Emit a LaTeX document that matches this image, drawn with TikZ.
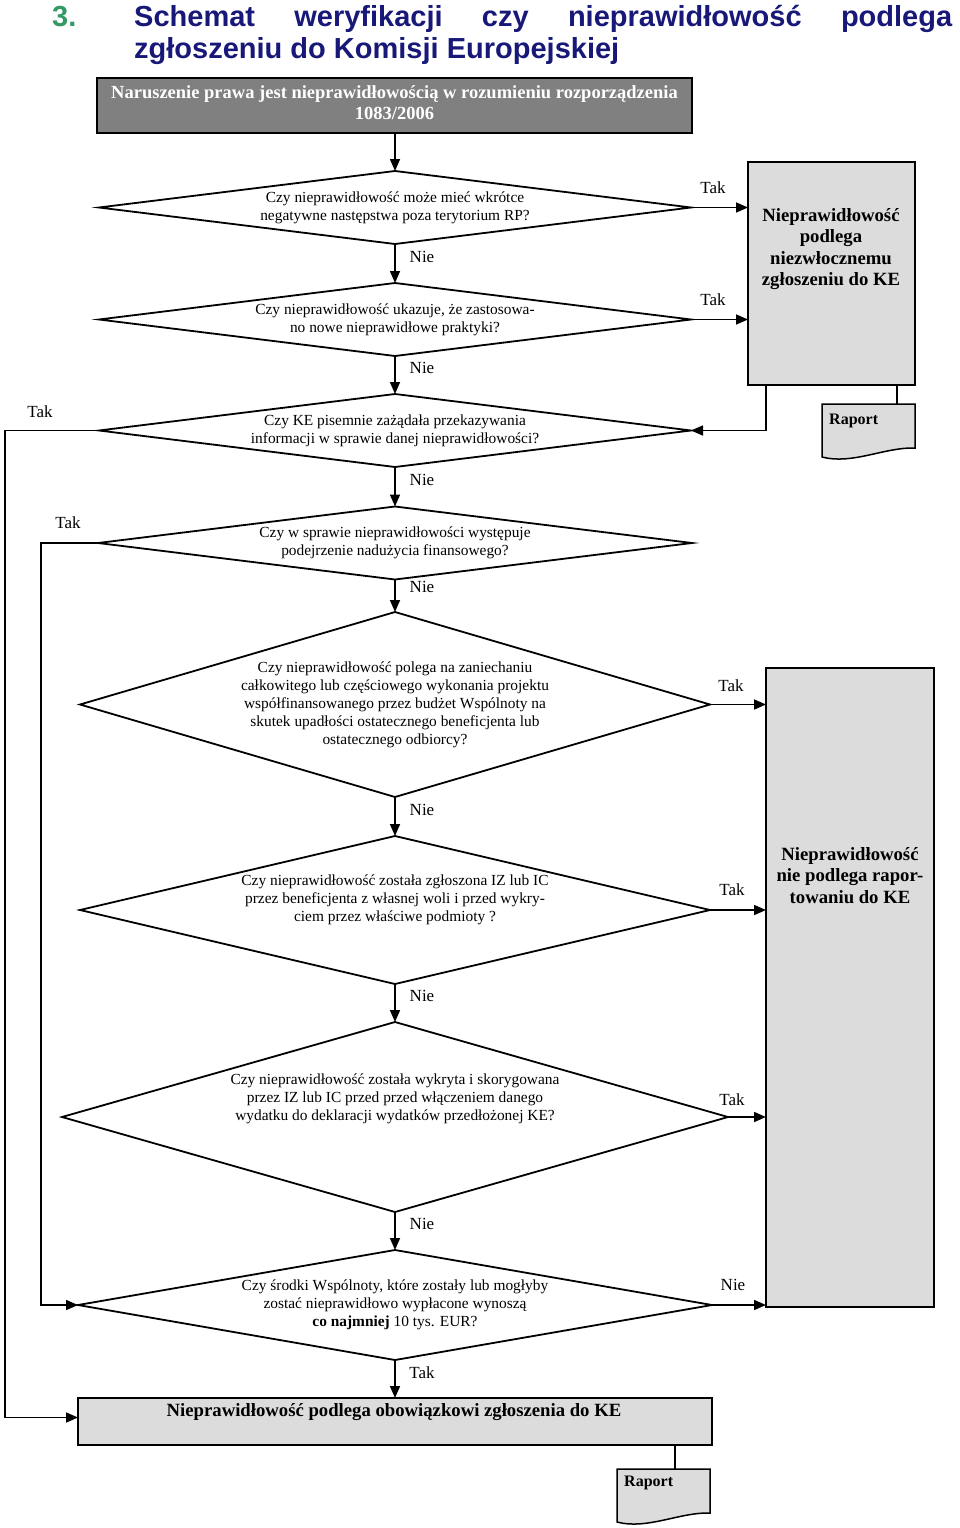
\documentclass[tikz,border=0pt]{standalone}
\usepackage{fontspec}
\setmainfont{Liberation Serif}
\newfontfamily\titlefont{Liberation Sans}
\usetikzlibrary{shapes.geometric,arrows.meta,calc}
\definecolor{titleblue}{RGB}{24,24,120}
\definecolor{titlegreen}{RGB}{51,153,102}
\definecolor{boxgray}{RGB}{220,220,220}
\definecolor{darkbox}{RGB}{128,128,128}
\begin{document}
\begin{tikzpicture}[x=1pt,y=-1pt,
 dec/.style={diamond, draw, line width=1.8pt, inner sep=0pt, outer sep=0pt},
 qtext/.style={align=center, font=\fontsize{15.4}{18}\selectfont, inner sep=0pt},
 arr/.style={line width=1.6pt, -{Triangle[length=12pt,width=10pt]}},
 lbl/.style={font=\fontsize{17}{20}\selectfont, inner sep=0pt},
 resbox/.style={draw, line width=1.8pt, fill=boxgray, inner sep=0pt, outer sep=0pt},
 restext/.style={align=center, font=\bfseries\fontsize{18.7}{21.5}\selectfont, inner sep=0pt},
 docshape/.style={inner sep=0pt, outer sep=0pt, minimum width=93pt, minimum height=53pt},
 plain/.style={line width=1.6pt},
 ttl/.style={anchor=base west, inner sep=0pt, font=\titlefont\bfseries\fontsize{29}{32}\selectfont}]
\useasboundingbox (0,0) rectangle (960,1528);

% title
\node[ttl, text=titlegreen] (num) at (52,27) {3.};
\node[ttl, text=titleblue] (t1) at (134,27) {\makebox[818pt][l]{Schemat\hfill weryfikacji\hfill czy\hfill nieprawidłowość\hfill podlega}};
\node[ttl, text=titleblue] (t2) at (134,59) {zgłoszeniu do Komisji Europejskiej};

% top box
\node[draw, line width=2pt, fill=darkbox, minimum width=595pt, minimum height=55pt, inner sep=0pt, outer sep=0pt] (top) at (394.5,105.5) {};
\node[align=center, text=white, inner sep=0pt, font=\bfseries\fontsize{18.5}{21}\selectfont] (toptxt) at (394.5,103) {Naruszenie prawa jest nieprawidłowością w rozumieniu rozporządzenia\\1083/2006};

% decisions
\node[dec, minimum width=592pt, minimum height=73pt] (d1) at (395,207.5) {};
\node[dec, minimum width=592pt, minimum height=73pt] (d2) at (395,319.5) {};
\node[dec, minimum width=592pt, minimum height=73pt] (d3) at (395,430.5) {};
\node[dec, minimum width=594pt, minimum height=73pt] (d4) at (395,543) {};
\node[dec, minimum width=630pt, minimum height=185pt] (d5) at (395,704.5) {};
\node[dec, minimum width=630pt, minimum height=148pt] (d6) at (395,910) {};
\node[dec, minimum width=666pt, minimum height=190pt] (d7) at (395,1117) {};
\node[dec, minimum width=634pt, minimum height=110pt] (d8) at (395,1305) {};

\node[qtext] (q1) at (395,208) {Czy nieprawidłowość może mieć wkrótce\\negatywne następstwa poza terytorium RP?};
\node[qtext] (q2) at (395,320) {Czy nieprawidłowość ukazuje, że zastosowa-\\no nowe nieprawidłowe praktyki?};
\node[qtext] (q3) at (395,431) {Czy KE pisemnie zażądała przekazywania\\informacji w sprawie danej nieprawidłowości?};
\node[qtext] (q4) at (395,543) {Czy w sprawie nieprawidłowości występuje\\podejrzenie nadużycia finansowego?};
\node[qtext] (q5) at (395,705) {Czy nieprawidłowość polega na zaniechaniu\\całkowitego lub częściowego wykonania projektu\\współfinansowanego przez budżet Wspólnoty na\\skutek upadłości ostatecznego beneficjenta lub\\ostatecznego odbiorcy?};
\node[qtext] (q6) at (395,900) {Czy nieprawidłowość została zgłoszona IZ lub IC\\przez beneficjenta z własnej woli i przed wykry-\\ciem przez właściwe podmioty ?};
\node[qtext] (q7) at (395,1099) {Czy nieprawidłowość została wykryta i skorygowana\\przez IZ lub IC przed przed włączeniem danego\\wydatku do deklaracji wydatków przedłożonej KE?};
\node[qtext] (q8) at (395,1305) {Czy środki Wspólnoty, które zostały lub mogłyby\\zostać nieprawidłowo wypłacone wynoszą\\\textbf{co najmniej} 10 tys. EUR?};

% result boxes
\node[resbox, minimum width=167pt, minimum height=223pt] (r1) at (831.5,273.5) {};
\node[resbox, minimum width=168pt, minimum height=639pt] (r2) at (850,987.5) {};
\node[resbox, minimum width=634pt, minimum height=47pt] (bot) at (395,1421.5) {};
\node[restext] (r1t) at (831,249) {Nieprawidłowość\\podlega\\niezwłocznemu\\zgłoszeniu do KE};
\node[restext] (r2t) at (850,875.5) {Nieprawidłowość\\nie podlega rapor-\\towaniu do KE};
\node[restext] (bott) at (394,1412) {Nieprawidłowość podlega obowiązkowi zgłoszenia do KE};

% reports
\node[docshape] (rap1) at (868.5,430.5) {};
\node[docshape] (rap2) at (663.5,1495.5) {};
\foreach \r in {rap1,rap2}
  \draw[line width=1.5pt, fill=boxgray] (\r.north west) -- (\r.north east) -- ([yshift=9pt]\r.south east)
    .. controls ([xshift=-30pt,yshift=10pt]\r.south east) and ([xshift=30pt,yshift=-8pt]\r.south west) .. (\r.south west) -- cycle;
\node[anchor=west, inner sep=0pt, font=\bfseries\fontsize{16}{19}\selectfont] (rap1t) at ([xshift=7pt,yshift=-17pt]rap1.north west) {Raport};
\node[anchor=west, inner sep=0pt, font=\bfseries\fontsize{16}{19}\selectfont] (rap2t) at ([xshift=7pt,yshift=-14pt]rap2.north west) {Raport};

% connectors
\draw[arr] (top.south -| d1.north) -- (d1.north);
\draw[arr] (d1.south) -- (d2.north);
\draw[arr] (d2.south) -- (d3.north);
\draw[arr] (d3.south) -- (d4.north);
\draw[arr] (d4.south) -- (d5.north);
\draw[arr] (d5.south) -- (d6.north);
\draw[arr] (d6.south) -- (d7.north);
\draw[arr] (d7.south) -- (d8.north);
\draw[arr] (d8.south) -- (bot.north);

\draw[arr] (d1.east) -- (d1.east -| r1.west);
\draw[arr] (d2.east) -- (d2.east -| r1.west);
\coordinate (r1a) at ([xshift=18pt]r1.south west);
\coordinate (r1b) at ([xshift=-18pt]r1.south east);
\draw[arr] (r1a) |- (d3.east);
\draw[plain] (r1b) -- (r1b |- rap1.north);

\draw[arr] (d5.east) -- (d5.east -| r2.west);
\draw[arr] (d6.east) -- (d6.east -| r2.west);
\draw[arr] (d7.east) -- (d7.east -| r2.west);
\draw[arr] (d8.east) -- (d8.east -| r2.west);

\coordinate (l3) at (5,430.5);
\coordinate (l4) at (41,543);
\draw[arr] (d3.west) -- (l3) |- ([yshift=4pt]bot.west);
\draw[arr] (d4.west) -- (l4) |- (d8.west);

\coordinate (bb) at (675,1444);
\draw[plain] (bb) -- (bb |- rap2.north);

% labels
\node[lbl] (n1) at (422,257) {Nie};
\node[lbl] (n2) at (422,368) {Nie};
\node[lbl] (n3) at (422,480) {Nie};
\node[lbl] (n4) at (422,587) {Nie};
\node[lbl] (n5) at (422,810) {Nie};
\node[lbl] (n6) at (422,996) {Nie};
\node[lbl] (n7) at (422,1224) {Nie};
\node[lbl] (y8) at (422,1373) {Tak};
\node[lbl] (y1) at (713,188) {Tak};
\node[lbl] (y2) at (713,300) {Tak};
\node[lbl] (y5) at (731,686) {Tak};
\node[lbl] (y6) at (732,890) {Tak};
\node[lbl] (y7) at (732,1100) {Tak};
\node[lbl] (n8) at (733,1285) {Nie};
\node[lbl] (y3) at (40,412) {Tak};
\node[lbl] (y4) at (68,523) {Tak};
\end{tikzpicture}
\end{document}
